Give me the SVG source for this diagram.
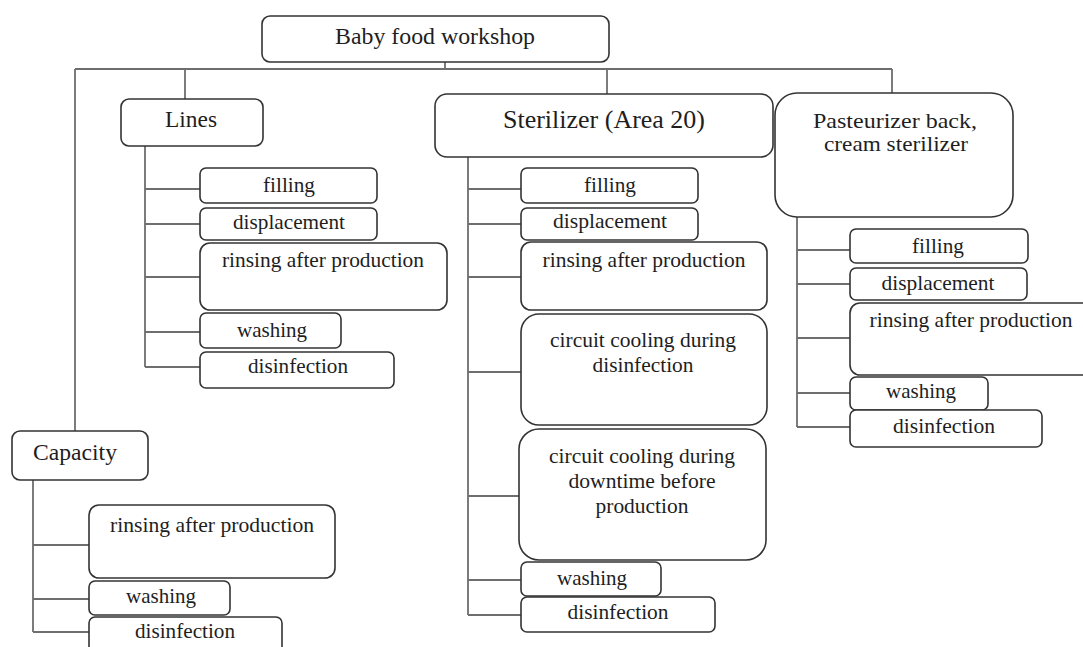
<svg xmlns="http://www.w3.org/2000/svg" width="1083" height="647" viewBox="0 0 1083 647">
<style>
.b{fill:#fff;stroke:#333;stroke-width:1.6}
.c{fill:none;stroke:#6e6e6e;stroke-width:1.8}
text{font-family:"Liberation Serif",serif;fill:#1e1e1e;text-anchor:middle}
.s{font-size:21px}
.h{font-size:23.6px}
</style>
<rect width="1083" height="647" fill="#fff"/>
<g id="connectors">
<path class="c" d="M445 62V69M75 69H892M75 69V431M185 69V99M607 69V94M892 69V93"/>
<path class="c" d="M145 146V367M145 189H200M145 224H200M145 277H200M145 332H200M145 367H200"/>
<path class="c" d="M468 157V615M468 189H521M468 224H521M468 277H521M468 372H521M468 496H519M468 580H521M468 615H521"/>
<path class="c" d="M797 217V427M797 250H850M797 284H850M797 338H850M797 393H850M797 427H850"/>
<path class="c" d="M33 480V632M33 545H89M33 599H89M33 632H89"/>
</g>
<g id="root"><rect class="b" x="262" y="16" width="347" height="46" rx="8"/><text x="435" y="44" font-size="23.8" textLength="200" lengthAdjust="spacingAndGlyphs">Baby food workshop</text></g>
<g id="lines"><rect class="b" x="121" y="99" width="142" height="47" rx="8"/><text class="h" x="191" y="127" textLength="52" lengthAdjust="spacingAndGlyphs">Lines</text></g>
<g id="sterilizer"><rect class="b" x="435" y="94" width="338" height="63" rx="12"/><text x="604" y="128" font-size="26" textLength="202" lengthAdjust="spacingAndGlyphs">Sterilizer (Area 20)</text></g>
<g id="pasteurizer"><rect class="b" x="775" y="93" width="238" height="124" rx="22"/><text font-size="22" x="895" y="128" textLength="164" lengthAdjust="spacingAndGlyphs">Pasteurizer back,</text><text font-size="22" x="896" y="151" textLength="144" lengthAdjust="spacingAndGlyphs">cream sterilizer</text></g>
<g id="capacity"><rect class="b" x="12" y="431" width="136" height="49" rx="8"/><text class="h" x="75" y="460" textLength="84" lengthAdjust="spacingAndGlyphs">Capacity</text></g>

<g id="l-filling"><rect class="b" x="200" y="168" width="177" height="35" rx="6"/><text class="s" x="289" y="192" textLength="52" lengthAdjust="spacingAndGlyphs">filling</text></g>
<g id="l-rinsing"><rect class="b" x="200" y="243" width="247" height="67" rx="10"/><text class="s" x="323" y="267" textLength="202" lengthAdjust="spacingAndGlyphs">rinsing after production</text></g>
<g id="l-displacement"><rect class="b" x="200" y="208" width="177" height="32" rx="6"/><text class="s" x="289" y="229" textLength="112" lengthAdjust="spacingAndGlyphs">displacement</text></g>
<g id="l-washing"><rect class="b" x="200" y="313" width="141" height="35" rx="6"/><text class="s" x="272" y="337" textLength="70" lengthAdjust="spacingAndGlyphs">washing</text></g>
<g id="l-disinfection"><rect class="b" x="200" y="352" width="194" height="36" rx="6"/><text class="s" x="298" y="373" textLength="100" lengthAdjust="spacingAndGlyphs">disinfection</text></g>

<g id="s-filling"><rect class="b" x="521" y="168" width="177" height="35" rx="6"/><text class="s" x="610" y="192" textLength="52" lengthAdjust="spacingAndGlyphs">filling</text></g>
<g id="s-rinsing"><rect class="b" x="521" y="242" width="246" height="68" rx="10"/><text class="s" x="644" y="267" textLength="203" lengthAdjust="spacingAndGlyphs">rinsing after production</text></g>
<g id="s-displacement"><rect class="b" x="521" y="208" width="177" height="32" rx="6"/><text class="s" x="610" y="228" textLength="114" lengthAdjust="spacingAndGlyphs">displacement</text></g>
<g id="s-cooling1"><rect class="b" x="521" y="314" width="246" height="111" rx="18"/><text class="s" x="643" y="347" textLength="186" lengthAdjust="spacingAndGlyphs">circuit cooling during</text><text class="s" x="643" y="372" textLength="101" lengthAdjust="spacingAndGlyphs">disinfection</text></g>
<g id="s-cooling2"><rect class="b" x="519" y="429" width="247" height="131" rx="20"/><text class="s" x="642" y="463" textLength="186" lengthAdjust="spacingAndGlyphs">circuit cooling during</text><text class="s" x="642" y="488" textLength="147" lengthAdjust="spacingAndGlyphs">downtime before</text><text class="s" x="642" y="513" textLength="93" lengthAdjust="spacingAndGlyphs">production</text></g>
<g id="s-washing"><rect class="b" x="521" y="562" width="140" height="34" rx="6"/><text class="s" x="592" y="585" textLength="70" lengthAdjust="spacingAndGlyphs">washing</text></g>
<g id="s-disinfection"><rect class="b" x="521" y="597" width="194" height="35" rx="6"/><text class="s" x="618" y="619" textLength="101" lengthAdjust="spacingAndGlyphs">disinfection</text></g>

<g id="p-filling"><rect class="b" x="850" y="229" width="178" height="34" rx="6"/><text class="s" x="938" y="253" textLength="52" lengthAdjust="spacingAndGlyphs">filling</text></g>
<g id="p-rinsing"><rect class="b" x="850" y="303" width="245" height="72" rx="10"/><text class="s" x="971" y="327" textLength="203" lengthAdjust="spacingAndGlyphs">rinsing after production</text></g>
<g id="p-displacement"><rect class="b" x="850" y="268" width="177" height="32" rx="6"/><text class="s" x="938" y="290" textLength="113" lengthAdjust="spacingAndGlyphs">displacement</text></g>
<g id="p-washing"><rect class="b" x="850" y="377" width="138" height="33" rx="6"/><text class="s" x="921" y="398" textLength="70" lengthAdjust="spacingAndGlyphs">washing</text></g>
<g id="p-disinfection"><rect class="b" x="850" y="410" width="192" height="37" rx="6"/><text class="s" x="944" y="433" textLength="102" lengthAdjust="spacingAndGlyphs">disinfection</text></g>

<g id="c-rinsing"><rect class="b" x="89" y="505" width="246" height="73" rx="10"/><text class="s" x="212" y="532" textLength="204" lengthAdjust="spacingAndGlyphs">rinsing after production</text></g>
<g id="c-washing"><rect class="b" x="89" y="581" width="141" height="34" rx="6"/><text class="s" x="161" y="603" textLength="70" lengthAdjust="spacingAndGlyphs">washing</text></g>
<g id="c-disinfection"><rect class="b" x="89" y="617" width="193" height="40" rx="6"/><text class="s" x="185" y="638" textLength="100" lengthAdjust="spacingAndGlyphs">disinfection</text></g>
</svg>
